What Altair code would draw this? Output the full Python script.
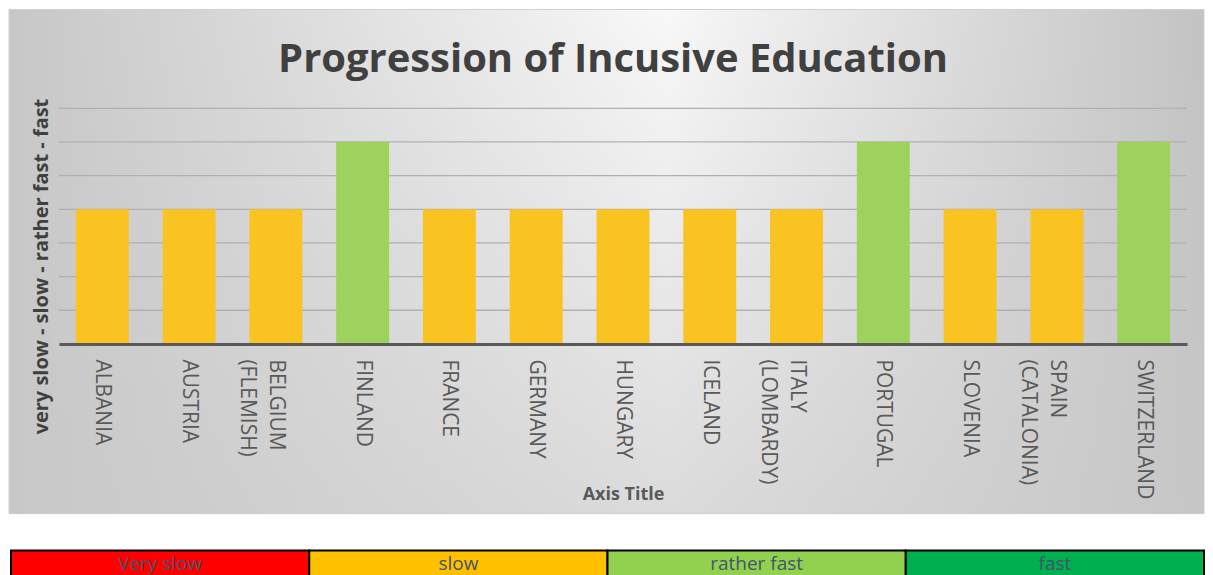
import altair as alt
import pandas as pd

countries = ["ALBANIA", "AUSTRIA", "BELGIUM (FLEMISH)", "FINLAND", "FRANCE", "GERMANY",
             "HUNGARY", "ICELAND", "ITALY (LOMBARDY)", "PORTUGAL", "SLOVENIA",
             "SPAIN (CATALONIA)", "SWITZERLAND"]
values = [4, 4, 4, 6, 4, 4, 4, 4, 4, 6, 4, 4, 6]
speed = ["slow", "slow", "slow", "rather fast", "slow", "slow", "slow", "slow", "slow",
         "rather fast", "slow", "slow", "rather fast"]
bar_domain = ["slow", "rather fast"]
bar_colors = ["#F9C322", "#9DD35C"]
grid_ticks = [1, 2, 3, 4, 5, 6, 7]

legend_labels = ["Very slow", "slow", "rather fast", "fast"]
legend_colors = ["#FF0000", "#FFC000", "#92D050", "#00B050"]

FONT = "Open Sans"

df = pd.DataFrame({"country": countries, "value": values, "speed": speed})
grid_df = pd.DataFrame({"value": grid_ticks})
one = pd.DataFrame({"a": [0]})

bg_h = alt.LinearGradient(
    gradient="linear",
    stops=[alt.GradientStop(color="#c7c7c7", offset=0),
           alt.GradientStop(color="#f8f8f8", offset=0.55),
           alt.GradientStop(color="#c3c3c3", offset=1)],
    x1=0, x2=1, y1=0, y2=0)
bg_v = alt.LinearGradient(
    gradient="linear",
    stops=[alt.GradientStop(color="rgba(200,200,200,0)", offset=0),
           alt.GradientStop(color="rgba(200,200,200,0.6)", offset=1)],
    x1=0, x2=0, y1=0, y2=1)

bg1 = alt.Chart(one).mark_rect(fill=bg_h, stroke="#d0d0d0", strokeWidth=1).encode(
    x=alt.value(-50), x2=alt.value(1147), y=alt.value(-99), y2=alt.value(406))
bg2 = alt.Chart(one).mark_rect(fill=bg_v).encode(
    x=alt.value(-50), x2=alt.value(1147), y=alt.value(-99), y2=alt.value(406))

y_enc = alt.Y("value:Q", scale=alt.Scale(domain=[0, 7], nice=False),
              axis=alt.Axis(labels=False, ticks=False, domain=False, grid=False,
                            zindex=1,
                            title="very slow - slow - rather fast - fast",
                            titleFont=FONT, titleFontSize=20, titleFontWeight="bold",
                            titleColor="#404040", titleX=-17, titleY=158,
                            titleBaseline="middle", titleAlign="center"))

grid = alt.Chart(grid_df).mark_rule(color="#b0b0b0", strokeWidth=1.3).encode(y=y_enc)

bars = alt.Chart(df).mark_bar().encode(
    x=alt.X("country:N", sort=countries,
            scale=alt.Scale(paddingInner=0.39, paddingOuter=0.195),
            axis=alt.Axis(labelAngle=90, labelAlign="left", labelBaseline="middle",
                          labelFont=FONT, labelFontSize=21, labelColor="#595959",
                          labelPadding=15, labelLineHeight=29, labelLimit=0,
                          labelOverlap=False, zindex=1,
                          labelExpr="split(replace(datum.label, ' (', '|('), '|')",
                          ticks=False, domainColor="#595959", domainWidth=3,
                          title="Axis Title", titleFont=FONT, titleFontSize=18,
                          titleFontWeight="bold", titleColor="#595959",
                          titleY=151, titleBaseline="middle")),
    y=y_enc,
    color=alt.Color("speed:N", scale=alt.Scale(domain=bar_domain, range=bar_colors),
                    legend=None),
)

top = alt.layer(bg1, bg2, grid, bars).properties(
    width=1130, height=236,
    title=alt.TitleParams("Progression of Incusive Education", font=FONT, fontSize=40,
                          fontWeight="bold", color="#404040", anchor="middle",
                          dy=75, dx=-10),
)

leg_df = pd.DataFrame({"label": legend_labels})
leg_base = alt.Chart(leg_df).encode(
    x=alt.X("label:N", sort=legend_labels, axis=None,
            scale=alt.Scale(paddingInner=0, paddingOuter=0, range=[-48, 1147])))
leg_rect = leg_base.mark_rect(stroke="black", strokeWidth=2).encode(
    color=alt.Color("label:N", scale=alt.Scale(domain=legend_labels, range=legend_colors),
                    legend=None),
    y=alt.value(0), y2=alt.value(32))
leg_text = leg_base.mark_text(font=FONT, fontSize=19, color="#44546A",
                              baseline="middle").encode(text="label:N", y=alt.value(13))
legend = alt.layer(leg_rect, leg_text).properties(width=1130, height=32)

chart = alt.vconcat(top, legend, spacing=35).resolve_scale(color="independent").properties(
    padding=0, background="white"
).configure_view(stroke=None)

chart.save("out.html", embed_options={"renderer": "svg", "actions": False})
